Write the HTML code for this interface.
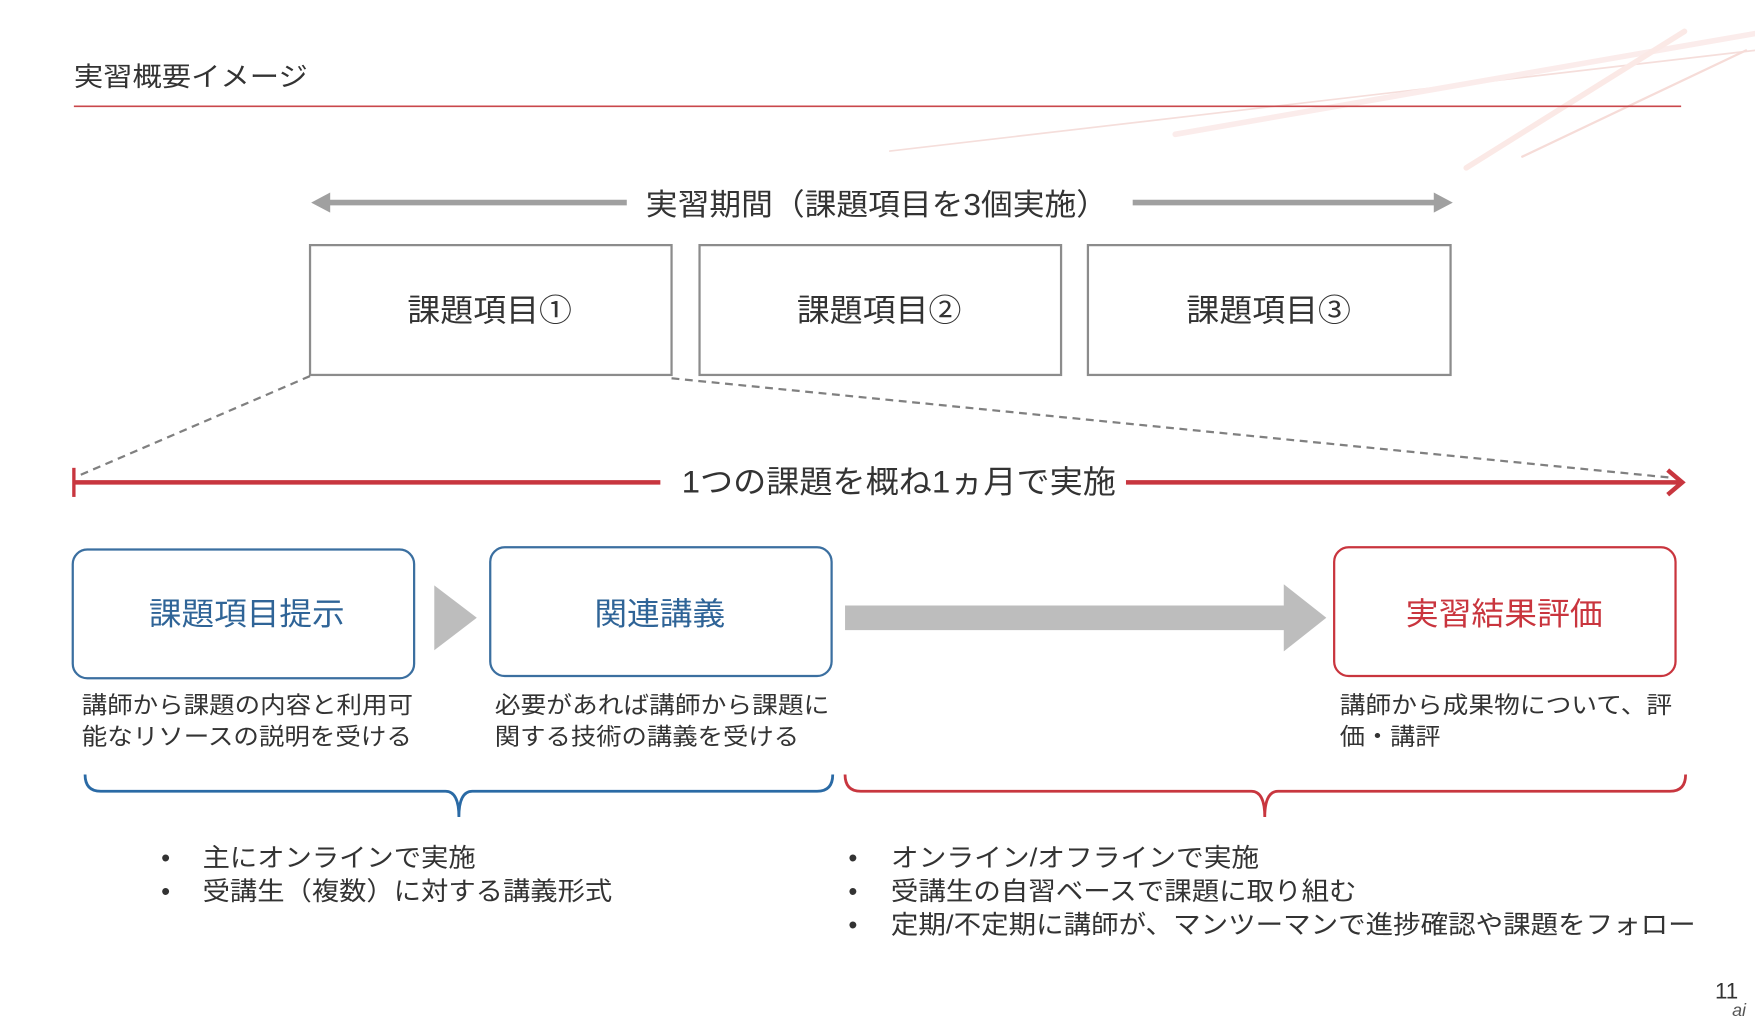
<!DOCTYPE html>
<html><head><meta charset="utf-8"><style>
html,body{margin:0;padding:0;background:#fff;}
svg{display:block;}
text{font-family:"Liberation Sans","Noto Sans CJK JP",sans-serif;}
</style></head><body>
<svg width="1755" height="1028" viewBox="0 0 1568 918.5" preserveAspectRatio="none" xmlns="http://www.w3.org/2000/svg">
<!-- decoration -->
<g stroke-linecap="round" fill="none">
<line x1="795" y1="135" x2="1568" y2="45" stroke="#f5dedb" stroke-width="1.5"/>
<line x1="1050" y1="120" x2="1568" y2="30" stroke="#fbeceb" stroke-width="5"/>
<line x1="1310" y1="150" x2="1505" y2="28" stroke="#fbe9e6" stroke-width="5"/>
<line x1="1360" y1="140" x2="1560" y2="45" stroke="#f6dcd8" stroke-width="2"/>
</g>
<text x="66" y="77" font-size="24" fill="#333" textLength="209" lengthAdjust="spacingAndGlyphs">実習概要イメージ</text>
<line x1="66" y1="95" x2="1502" y2="95" stroke="#c9474b" stroke-width="1.5"/>

<line x1="292" y1="181" x2="560" y2="181" stroke="#a0a0a0" stroke-width="5"/>
<path d="M278,181 L295,172 L295,190 z" fill="#a0a0a0"/>
<line x1="1012" y1="181" x2="1284" y2="181" stroke="#a0a0a0" stroke-width="5"/>
<path d="M1298,181 L1281,172 L1281,190 z" fill="#a0a0a0"/>
<text x="577" y="192" font-size="27" fill="#333" textLength="413" lengthAdjust="spacingAndGlyphs">実習期間（課題項目を3個実施）</text>

<g fill="#fff" stroke="#8c8c8c" stroke-width="2">
<rect x="277" y="219" width="323" height="116"/>
<rect x="625" y="219" width="323" height="116"/>
<rect x="972" y="219" width="324" height="116"/>
</g>
<g font-size="28" fill="#333">
<text x="364" y="287" textLength="147" lengthAdjust="spacingAndGlyphs">課題項目①</text>
<text x="712" y="287" textLength="147" lengthAdjust="spacingAndGlyphs">課題項目②</text>
<text x="1060" y="287" textLength="147" lengthAdjust="spacingAndGlyphs">課題項目③</text>
</g>

<g stroke="#808080" stroke-width="2" stroke-dasharray="7,5">
<line x1="277" y1="336" x2="68" y2="426"/>
<line x1="600" y1="338" x2="1495" y2="427"/>
</g>

<g stroke="#c8363f" stroke-width="4" fill="none">
<line x1="66" y1="431" x2="590" y2="431"/>
<line x1="1006" y1="431" x2="1502" y2="431"/>
<line x1="66" y1="418" x2="66" y2="444" stroke-width="3"/>
<path d="M1490,420 L1503,431 L1490,442" stroke-width="4"/>
</g>
<text x="609" y="440" font-size="28" fill="#333" textLength="388" lengthAdjust="spacingAndGlyphs">1つの課題を概ね1ヵ月で実施</text>

<rect x="65" y="491" width="305" height="115" rx="13" fill="#fff" stroke="#3b6fa0" stroke-width="2"/>
<rect x="438" y="489" width="305" height="115" rx="13" fill="#fff" stroke="#3b6fa0" stroke-width="2"/>
<rect x="1192" y="489" width="305" height="115" rx="13" fill="#fff" stroke="#c9353e" stroke-width="2"/>
<path d="M388,523 L426,552 L388,581 z" fill="#bdbdbd"/>
<rect x="755" y="541" width="394" height="22" fill="#bdbdbd"/>
<path d="M1147,522 L1185,552 L1147,582 z" fill="#bdbdbd"/>
<g font-size="28">
<text x="133" y="558" fill="#2f6497" textLength="175" lengthAdjust="spacingAndGlyphs">課題項目提示</text>
<text x="531" y="558" fill="#2f6497" textLength="117" lengthAdjust="spacingAndGlyphs">関連講義</text>
<text x="1256" y="558" fill="#c9353e" textLength="176" lengthAdjust="spacingAndGlyphs">実習結果評価</text>
</g>

<g font-size="21" fill="#333">
<text x="73" y="637" textLength="296" lengthAdjust="spacingAndGlyphs">講師から課題の内容と利用可</text>
<text x="73" y="665" textLength="295" lengthAdjust="spacingAndGlyphs">能なリソースの説明を受ける</text>
<text x="442" y="637" textLength="299" lengthAdjust="spacingAndGlyphs">必要があれば講師から課題に</text>
<text x="442" y="665" textLength="272" lengthAdjust="spacingAndGlyphs">関する技術の講義を受ける</text>
<text x="1197" y="637" textLength="297" lengthAdjust="spacingAndGlyphs">講師から成果物について、評</text>
<text x="1197" y="665" textLength="90" lengthAdjust="spacingAndGlyphs">価・講評</text>
</g>

<path d="M76,692 Q76,707 90,707 L398,707 Q410,707 410,730 Q410,707 422,707 L730,707 Q744,707 744,692" fill="none" stroke="#2a6aa5" stroke-width="2.5"/>
<path d="M755,692 Q755,707 769,707 L1118,707 Q1130,707 1130,730 Q1130,707 1142,707 L1492,707 Q1506,707 1506,692" fill="none" stroke="#c8363f" stroke-width="2.5"/>

<g font-size="23" fill="#333">
<text x="144" y="774">•</text><text x="181" y="774" textLength="244" lengthAdjust="spacingAndGlyphs">主にオンラインで実施</text>
<text x="144" y="804">•</text><text x="181" y="804" textLength="366" lengthAdjust="spacingAndGlyphs">受講生（複数）に対する講義形式</text>
<text x="758" y="774">•</text><text x="796" y="774" textLength="329" lengthAdjust="spacingAndGlyphs">オンライン/オフラインで実施</text>
<text x="758" y="804">•</text><text x="796" y="804" textLength="416" lengthAdjust="spacingAndGlyphs">受講生の自習ベースで課題に取り組む</text>
<text x="758" y="834">•</text><text x="796" y="834" textLength="719" lengthAdjust="spacingAndGlyphs">定期/不定期に講師が、マンツーマンで進捗確認や課題をフォロー</text>
</g>
<text x="1553" y="892" font-size="20" fill="#333" text-anchor="end">11</text>
<text x="1560" y="908" font-size="16" font-style="italic" fill="#555" text-anchor="end">ai</text>
</svg>
</body></html>
